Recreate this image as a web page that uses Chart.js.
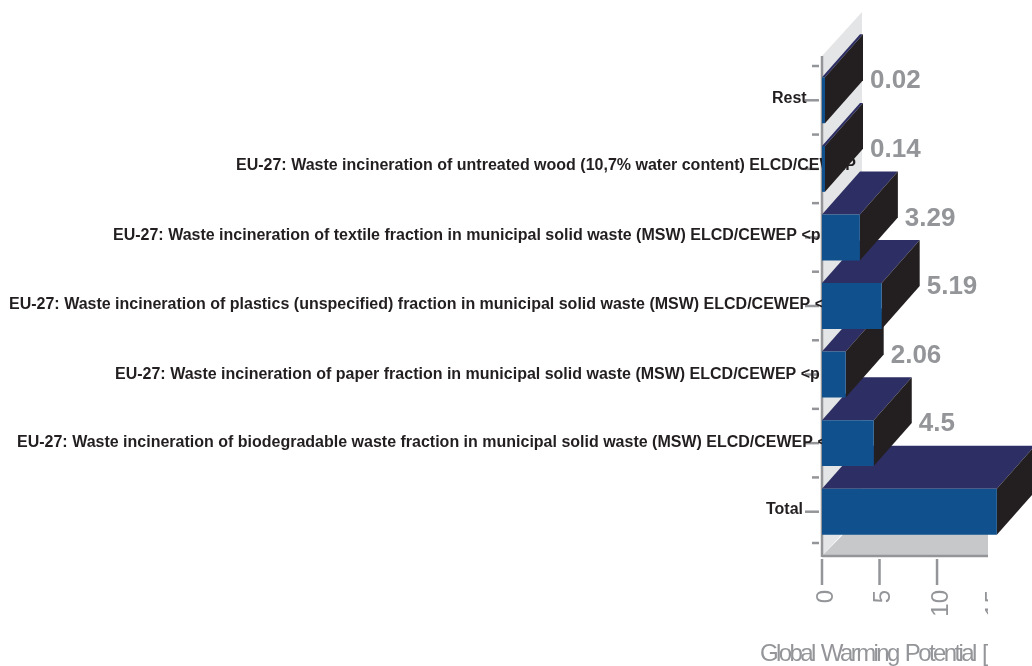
<!DOCTYPE html>
<html>
<head>
<meta charset="utf-8">
<title>Global Warming Potential</title>
<style>
  html, body { margin: 0; background: #fff; }
  canvas { display: block; }
</style>
<script src="https://cdn.jsdelivr.net/npm/chart.js@4/dist/chart.umd.min.js"></script>
</head>
<body>
<canvas id="chart" width="1032" height="666"></canvas>
<script>
// listed bottom to top, the upper bars overlap the lower ones so they are drawn last
const categories = [
  'Total',
  'EU-27: Waste incineration of biodegradable waste fraction in municipal solid waste (MSW) ELCD/CEWEP <p',
  'EU-27: Waste incineration of paper fraction in municipal solid waste (MSW) ELCD/CEWEP <p',
  'EU-27: Waste incineration of plastics (unspecified) fraction in municipal solid waste (MSW) ELCD/CEWEP <p',
  'EU-27: Waste incineration of textile fraction in municipal solid waste (MSW) ELCD/CEWEP <p',
  'EU-27: Waste incineration of untreated wood (10,7% water content) ELCD/CEWEP',
  'Rest',
];
const values = [15.2, 4.5, 2.06, 5.19, 3.29, 0.14, 0.02];
const valueLabels = ['', '4.5', '2.06', '5.19', '3.29', '0.14', '0.02'];
const axisTitle = 'Global Warming Potential [';

const labelLeft = [766, 17, 115, 9, 113, 236, 772];
const labelNudge = [-2, -1, 0, -1.5, -1.5, -3.5, -1.5];

const GRAY = '#939598';
const INK = '#231f20';
const DEPTH_X = 38;
const DEPTH_Y = 43;
const TICK_LABEL_SHIFT = 4;

function poly(ctx, pts, fill) {
  ctx.beginPath();
  pts.forEach(([x, y], i) => (i ? ctx.lineTo(x, y) : ctx.moveTo(x, y)));
  ctx.closePath();
  ctx.fillStyle = fill;
  ctx.fill();
}

function line(ctx, x1, y1, x2, y2, width) {
  ctx.beginPath();
  ctx.moveTo(x1, y1);
  ctx.lineTo(x2, y2);
  ctx.lineWidth = width;
  ctx.strokeStyle = GRAY;
  ctx.stroke();
}

const box3d = {
  id: 'box3d',
  beforeDatasetsDraw(chart) {
    const { ctx, chartArea: a, scales: { x, y } } = chart;
    const left = x.getPixelForValue(0);
    const top = a.top - 10;
    const bottom = a.bottom + 10;
    ctx.save();
    // side wall and floor
    poly(ctx, [[left, top], [left + 40, top - 44], [left + 40, bottom - 44], [left, bottom]], '#e4e5e7');
    poly(ctx, [[left, bottom], [left + 40, bottom - 41], [a.right, bottom - 41], [a.right, bottom]], '#c7c8ca');
    // axis lines
    line(ctx, left, top, left, bottom + 1, 2.5);
    line(ctx, left, bottom, a.right, bottom, 2.5);
    // value axis ticks
    x.ticks.forEach((t) => {
      const px = x.getPixelForValue(t.value);
      line(ctx, px, bottom + 3, px, bottom + 29, 2.5);
    });
    // category ticks
    const band = a.height / categories.length;
    categories.forEach((_, i) => {
      const py = y.getPixelForTick(i);
      line(ctx, left - 17, py, left - 3, py, 2.5);
      line(ctx, left - 10, py - band / 2, left - 3, py - band / 2, 2.5);
    });
    line(ctx, left - 10, a.bottom - 3, left - 3, a.bottom - 3, 2.5);
    // category labels run on behind the bars
    ctx.font = 'bold 16px "Liberation Sans", Arial, sans-serif';
    ctx.fillStyle = INK;
    ctx.textBaseline = 'middle';
    categories.forEach((c, i) => {
      ctx.fillText(c, labelLeft[i], y.getPixelForTick(i) + labelNudge[i]);
    });
    // the "15" of the value axis is cut at the end of the axis
    ctx.beginPath();
    ctx.rect(0, 0, a.right, chart.height);
    ctx.clip();
    ctx.save();
    ctx.translate(x.getPixelForValue(15) + 1, 590);
    ctx.rotate(-Math.PI / 2);
    ctx.font = '24px "Liberation Sans", Arial, sans-serif';
    ctx.fillStyle = GRAY;
    ctx.textAlign = 'right';
    ctx.textBaseline = 'middle';
    ctx.fillText('15', 0, 0);
    ctx.restore();
    ctx.font = '24px "Liberation Sans", Arial, sans-serif';
    ctx.letterSpacing = '-2.6px';
    ctx.wordSpacing = '3px';
    ctx.fillStyle = GRAY;
    ctx.textAlign = 'left';
    ctx.textBaseline = 'alphabetic';
    ctx.fillText(axisTitle, 760, 661);
    ctx.restore();
  },
  beforeDatasetDraw(chart, args) {
    const { ctx } = chart;
    args.meta.data.forEach((bar) => {
      const { x, y, base, height } = bar.getProps(['x', 'y', 'base', 'height']);
      const t = y - height / 2;
      const b = y + height / 2;
      poly(ctx, [[base, t], [base + DEPTH_X, t - DEPTH_Y], [x + DEPTH_X, t - DEPTH_Y], [x, t]], '#2d2e63');
      poly(ctx, [[x, t], [x + DEPTH_X, t - DEPTH_Y], [x + DEPTH_X, b - DEPTH_Y], [x, b]], INK);
      bar.draw(ctx);
    });
    return false;
  },
  afterDatasetsDraw(chart) {
    const { ctx } = chart;
    ctx.save();
    ctx.font = 'bold 26px "Liberation Sans", Arial, sans-serif';
    ctx.fillStyle = GRAY;
    ctx.textBaseline = 'middle';
    chart.getDatasetMeta(0).data.forEach((bar, i) => {
      ctx.fillText(valueLabels[i], bar.x + DEPTH_X + 7, bar.y - 19);
    });
    ctx.restore();
  },
};

new Chart(document.getElementById('chart'), {
  type: 'bar',
  data: {
    labels: categories,
    datasets: [{
      data: values,
      backgroundColor: '#10508c',
      borderWidth: 0,
      barPercentage: 0.67,
      categoryPercentage: 1,
      minBarLength: 3,
    }],
  },
  options: {
    indexAxis: 'y',
    responsive: false,
    animation: false,
    layout: { padding: { top: 66, right: 44 } },
    plugins: { legend: { display: false }, tooltip: { enabled: false } },
    scales: {
      x: {
        min: 0,
        max: 14.43,
        grid: { display: false, drawTicks: false },
        border: { display: false },
        afterFit(scale) { scale.height = 120; },
        ticks: {
          stepSize: 5,
          includeBounds: false,
          minRotation: 90,
          maxRotation: 90,
          padding: 44,
          labelOffset: TICK_LABEL_SHIFT,
          color: GRAY,
          font: { family: '"Liberation Sans", Arial, sans-serif', size: 24 },
        },
      },
      y: {
        reverse: true,
        grid: { display: false, drawTicks: false },
        border: { display: false },
        ticks: { display: false },
        afterFit(scale) { scale.width = 822; },
      },
    },
  },
  plugins: [box3d],
});
</script>
</body>
</html>
